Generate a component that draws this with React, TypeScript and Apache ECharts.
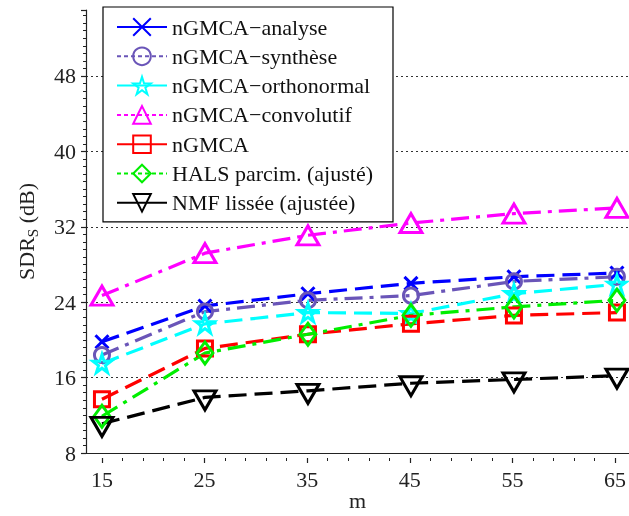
import React, { useEffect, useRef } from "react";
import * as echarts from "echarts";

const mValues = [15, 25, 35, 45, 55, 65];
const yTicks = [8, 16, 24, 32, 40, 48];

const analyse = [19.8, 23.6, 24.9, 26.0, 26.7, 27.1];
const synthese = [18.4, 23.0, 24.2, 24.7, 26.2, 26.7];
const orthonormal = [17.5, 21.7, 22.9, 22.8, 24.9, 25.9];
const convolutif = [24.7, 29.2, 31.1, 32.4, 33.4, 34.0];
const ngmca = [13.7, 19.1, 20.6, 21.7, 22.6, 22.9];
const hals = [11.9, 18.6, 20.6, 22.6, 23.5, 24.2];
const nmf = [11.1, 13.9, 14.6, 15.4, 15.8, 16.2];

const names = [
  "nGMCA\u2212analyse",
  "nGMCA\u2212synthèse",
  "nGMCA\u2212orthonormal",
  "nGMCA\u2212convolutif",
  "nGMCA",
  "HALS parcim. (ajusté)",
  "NMF lissée (ajustée)",
];

const FONT = "Liberation Serif";
const DASH = [18, 8];
const DASHDOT = [18, 7, 4, 7];

const STAR =
  "path://M10,0L12.245,6.91L19.511,6.91L13.633,11.18L15.878,18.09L10,13.82L4.122,18.09L6.367,11.18L0.489,6.91L7.755,6.91Z";
const CROSS = "path://M0,0L10,10M10,0L0,10";
const TRI_DOWN = "path://M0,0L20,0L10,17Z";
const TRI_UP = "path://M10,0L20,17L0,17Z";

export default function App() {
  const ref = useRef<HTMLDivElement>(null);
  useEffect(() => {
    if (!ref.current) return;
    const chart = echarts.init(ref.current, null, { renderer: "svg" });

    const mk = (
      name: string,
      values: number[],
      color: string,
      dash: number[],
      symbol: string,
      size: number | number[],
      offset?: number[]
    ) => ({
      type: "line",
      name,
      xAxisIndex: 0,
      yAxisIndex: 0,
      data: mValues.map((m, i) => [m, values[i]]),
      symbol,
      symbolSize: size,
      symbolOffset: offset || [0, 0],
      showAllSymbol: true,
      lineStyle: { color, width: 3.2, type: dash },
      itemStyle: { color: "transparent", borderColor: color, borderWidth: 3 },
      emphasis: { disabled: true },
      z: 3,
    });

    const series = [
      mk(names[0], analyse, "#0000ff", DASH, CROSS, 13),
      mk(names[1], synthese, "#6a55b8", DASHDOT, "circle", 15),
      mk(names[2], orthonormal, "#00ffff", DASH, STAR, 18),
      mk(names[3], convolutif, "#ff00ff", DASHDOT, TRI_UP, [22, 19]),
      mk(names[4], ngmca, "#ff0000", DASH, "rect", 15),
      mk(names[5], hals, "#00ee00", DASHDOT, "diamond", [16, 22]),
      mk(names[6], nmf, "#000000", DASH, TRI_DOWN, [22, 19], [0, 3]),
    ];

    const dashed = [true, false, true, false, true, false, true];

    chart.setOption({
      animation: false,
      grid: [
        { left: 86, top: 10, right: 0, bottom: 58 },
        { left: 102, top: 10, right: 12, bottom: 58 },
      ],
      legend: {
        orient: "vertical",
        left: 103,
        top: 7,
        backgroundColor: "#ffffff",
        borderColor: "#000000",
        borderWidth: 1.2,
        padding: [9, 20, 8, 13],
        itemWidth: 50,
        itemHeight: 22,
        itemGap: 7.3,
        selectedMode: false,
        textStyle: { fontFamily: FONT, fontSize: 22, color: "#111" },
        data: names.map((n, i) => ({
          name: n,
          lineStyle: { type: dashed[i] ? "solid" : [4, 3] },
        })),
        z: 10,
      },
      xAxis: [
        {
          type: "value",
          gridIndex: 0,
          min: 13.45,
          max: 66.17,
          axisLine: { show: true, lineStyle: { color: "#222", width: 1.2 } },
          axisTick: { show: false },
          axisLabel: { show: false },
          splitLine: { show: false },
          name: "m",
          nameLocation: "middle",
          nameGap: 36,
          nameTextStyle: { fontFamily: FONT, fontSize: 22, color: "#222" },
        },
        {
          type: "value",
          gridIndex: 1,
          min: 15,
          max: 65,
          interval: 10,
          axisLine: { show: false },
          axisTick: { show: true, length: 5, lineStyle: { color: "#222", width: 1.2 } },
          minorTick: { show: true, splitNumber: 5, length: 3, lineStyle: { color: "#222", width: 1 } },
          axisLabel: { fontFamily: FONT, fontSize: 22, color: "#222", margin: 10 },
          splitLine: { show: false },
        },
      ],
      yAxis: [
        {
          type: "value",
          gridIndex: 0,
          min: 8,
          max: 55,
          interval: 8,
          axisLine: { show: true, lineStyle: { color: "#222", width: 1.2 } },
          axisTick: { show: true, length: 5, lineStyle: { color: "#222", width: 1.2 } },
          minorTick: { show: true, splitNumber: 10, length: 3, lineStyle: { color: "#222", width: 1 } },
          axisLabel: {
            fontFamily: FONT,
            fontSize: 22,
            color: "#222",
            margin: 10,
            showMaxLabel: false,
            formatter: (v: number) => (yTicks.indexOf(v) >= 0 ? String(v) : ""),
          },
          splitLine: {
            show: true,
            showMinLine: false,
            showMaxLine: false,
            lineStyle: { color: "#333", width: 1, type: [2, 3] },
          },
          name: "{a|SDR}{b|S}{a| (dB)}",
          nameLocation: "middle",
          nameGap: 46,
          nameTextStyle: {
            fontFamily: FONT,
            fontSize: 22,
            color: "#222",
            rich: {
              a: { fontFamily: FONT, fontSize: 22, color: "#222", lineHeight: 28 },
              b: { fontFamily: FONT, fontSize: 15, color: "#222", lineHeight: 15, verticalAlign: "bottom" },
            },
          },
        },
        { type: "value", gridIndex: 1, min: 8, max: 55, show: false },
      ],
      series,
    });

    return () => chart.dispose();
  }, []);

  return (
    <div
      ref={ref}
      style={{ position: "fixed", left: 0, top: 0, width: 629, height: 516 }}
    />
  );
}
